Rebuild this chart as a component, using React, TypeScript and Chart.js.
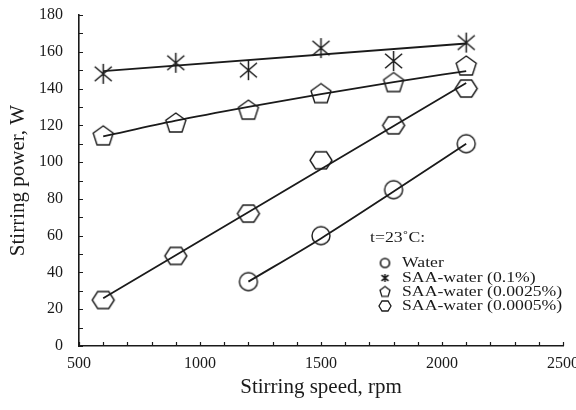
import React, { useEffect, useRef } from "react";
import { Chart, registerables } from "chart.js";

Chart.register(...registerables);

// Measured stirring power, W
const speeds = [600, 900, 1200, 1500, 1800, 2100];
const waterSpeeds = [1200, 1500, 1800, 2100];
const waterPower = [35, 60, 85, 110];
const saa01Power = [148, 154, 150, 162, 155, 165];
const saa0025Power = [114, 121, 128, 137, 143, 152];
const saa0005Power = [25, 49, 72, 101, 120, 140];

// Trend lines
const waterFit = [35, 58.5, 84, 110];
const saa01FitSpeeds = [600, 2100];
const saa01Fit = [149.5, 164.5];
const saa0025Fit = [114, 122.5, 130, 137, 143.5, 149.5];
const saa0005FitSpeeds = [600, 2100];
const saa0005Fit = [26, 143];

// Axes
const xTicks = [500, 1000, 1500, 2000, 2500];
const yTicks = [0, 20, 40, 60, 80, 100, 120, 140, 160, 180];
const xMinorStep = 100;
const yMinorStep = 10;

const legendTitle = "t=23˚C:";
const legendLabels = [
  "Water",
  "SAA-water (0.1%)",
  "SAA-water (0.0025%)",
  "SAA-water (0.0005%)",
];

const INK = "#1a1a1a";
const FONT = "'Liberation Serif', 'Times New Roman', serif";

type MarkerKind = "circle" | "asterisk" | "pentagon" | "hexagon";

function makeMarker(kind: MarkerKind, w: number, h: number, lw: number): HTMLCanvasElement {
  const pad = 2;
  const c = document.createElement("canvas");
  c.width = Math.ceil(w + pad * 2);
  c.height = Math.ceil(h + pad * 2);
  const ctx = c.getContext("2d")!;
  ctx.strokeStyle = INK;
  ctx.lineWidth = lw;
  ctx.lineJoin = "miter";
  const cx = c.width / 2;
  const cy = c.height / 2;
  const rx = w / 2;
  const ry = h / 2;
  ctx.beginPath();
  if (kind === "circle") {
    ctx.ellipse(cx, cy, rx, ry, 0, 0, Math.PI * 2);
  } else if (kind === "asterisk") {
    ctx.moveTo(cx, cy - ry);
    ctx.lineTo(cx, cy + ry);
    ctx.moveTo(cx - rx, cy - ry * 0.72);
    ctx.lineTo(cx + rx, cy + ry * 0.72);
    ctx.moveTo(cx + rx, cy - ry * 0.72);
    ctx.lineTo(cx - rx, cy + ry * 0.72);
  } else if (kind === "pentagon") {
    for (let k = 0; k < 5; k++) {
      const a = -Math.PI / 2 + (k * 2 * Math.PI) / 5;
      const px = cx + (rx * Math.cos(a)) / Math.sin((2 * Math.PI) / 5);
      const py = cy + ry * Math.sin(a);
      if (k === 0) ctx.moveTo(px, py);
      else ctx.lineTo(px, py);
    }
    ctx.closePath();
  } else {
    for (let k = 0; k < 6; k++) {
      const a = (k * Math.PI) / 3;
      const px = cx + rx * Math.cos(a);
      const py = cy + (ry / Math.sin(Math.PI / 3)) * Math.sin(a);
      if (k === 0) ctx.moveTo(px, py);
      else ctx.lineTo(px, py);
    }
    ctx.closePath();
  }
  ctx.stroke();
  return c;
}

const xy = (xs: number[], ys: number[]) => xs.map((x, i) => ({ x, y: ys[i] }));

// Inward minor tick marks on both axes
const axisTicks = {
  id: "axisTicks",
  afterDraw(chart: any) {
    const { ctx, chartArea, scales } = chart;
    const xs = scales.x;
    const ys = scales.y;
    ctx.save();
    ctx.strokeStyle = INK;
    ctx.lineWidth = 1.2;
    ctx.beginPath();
    for (let v = xs.min; v <= xs.max + 1e-6; v += xMinorStep) {
      const px = Math.round(xs.getPixelForValue(v)) + 0.5;
      ctx.moveTo(px, chartArea.bottom);
      ctx.lineTo(px, chartArea.bottom - 4);
    }
    for (let v = ys.min; v <= ys.max + 1e-6; v += yMinorStep) {
      const py = Math.round(ys.getPixelForValue(v)) + 0.5;
      ctx.moveTo(chartArea.left, py);
      ctx.lineTo(chartArea.left + 4, py);
    }
    ctx.stroke();
    ctx.restore();
  },
};

function makeLegendPlugin(icons: HTMLCanvasElement[]) {
  return {
    id: "legendBox",
    afterDraw(chart: any) {
      const { ctx } = chart;
      ctx.save();
      ctx.fillStyle = INK;
      ctx.font = `15px ${FONT}`;
      ctx.textBaseline = "middle";
      ctx.textAlign = "left";
      const stretched = (t: string, x: number, y: number) => {
        ctx.save();
        ctx.translate(x, y);
        ctx.scale(1.18, 1);
        ctx.fillText(t, 0, 0);
        ctx.restore();
      };
      stretched(legendTitle, 370, 238);
      const rowY = [263, 278, 292, 306];
      legendLabels.forEach((label, i) => {
        const icon = icons[i];
        ctx.drawImage(icon, 385 - icon.width / 2, rowY[i] - icon.height / 2);
        stretched(label, 402, rowY[i]);
      });
      ctx.restore();
    },
  };
}

export default function App() {
  const ref = useRef<HTMLCanvasElement>(null);

  useEffect(() => {
    const canvas = ref.current;
    if (!canvas) return;

    const circle = makeMarker("circle", 18, 18, 1.4);
    const asterisk = makeMarker("asterisk", 17, 20, 1.5);
    const pentagon = makeMarker("pentagon", 20, 21, 1.4);
    const hexagon = makeMarker("hexagon", 22, 17, 1.4);

    const legendIcons = [
      makeMarker("circle", 9, 9, 1.6),
      makeMarker("asterisk", 7, 8, 1.6),
      makeMarker("pentagon", 10, 11, 1.3),
      makeMarker("hexagon", 12, 10, 1.3),
    ];

    const trend = (data: { x: number; y: number }[], curved: boolean) => ({
      data,
      showLine: true,
      borderColor: INK,
      borderWidth: 1.8,
      pointRadius: 0,
      pointHoverRadius: 0,
      fill: false,
      cubicInterpolationMode: curved ? ("monotone" as const) : ("default" as const),
      tension: curved ? 0.4 : 0,
    });

    const marks = (data: { x: number; y: number }[], style: HTMLCanvasElement) => ({
      data,
      showLine: false,
      pointStyle: style,
      pointRadius: 9,
      pointHoverRadius: 9,
      borderColor: INK,
      backgroundColor: "transparent",
    });

    const chart = new Chart(canvas, {
      type: "scatter",
      data: {
        datasets: [
          trend(xy(waterSpeeds, waterFit), true),
          trend(xy(saa01FitSpeeds, saa01Fit), false),
          trend(xy(speeds, saa0025Fit), true),
          trend(xy(saa0005FitSpeeds, saa0005Fit), false),
          marks(xy(waterSpeeds, waterPower), circle),
          marks(xy(speeds, saa01Power), asterisk),
          marks(xy(speeds, saa0025Power), pentagon),
          marks(xy(speeds, saa0005Power), hexagon),
        ] as any,
      },
      options: {
        animation: false,
        responsive: false,
        maintainAspectRatio: false,
        layout: { padding: { top: 15, right: 13, left: 0, bottom: 0 } },
        plugins: {
          legend: { display: false },
          tooltip: { enabled: false },
        },
        scales: {
          x: {
            type: "linear",
            min: 500,
            max: 2500,
            afterBuildTicks: (s: any) => {
              s.ticks = xTicks.map((v) => ({ value: v }));
            },
            afterFit: (s: any) => {
              s.height = 64;
              s.paddingLeft = 0;
              s.paddingRight = 0;
            },
            grid: { display: false, drawTicks: false },
            border: { display: true, color: INK, width: 1.6 },
            ticks: {
              color: INK,
              font: { family: FONT, size: 16 },
              padding: 8,
              maxRotation: 0,
              autoSkip: false,
              callback: (v: any) => String(v),
            },
            title: {
              display: true,
              text: "Stirring speed, rpm",
              color: INK,
              font: { family: FONT, size: 21 },
              padding: { top: 0, bottom: 10 },
            },
          },
          y: {
            type: "linear",
            min: 0,
            max: 180,
            afterBuildTicks: (s: any) => {
              s.ticks = yTicks.map((v) => ({ value: v }));
            },
            afterFit: (s: any) => {
              s.width = 79;
              s.paddingTop = 0;
              s.paddingBottom = 0;
            },
            grid: { display: false, drawTicks: false },
            border: { display: true, color: INK, width: 1.6 },
            ticks: {
              color: INK,
              font: { family: FONT, size: 16 },
              padding: 16,
              autoSkip: false,
              callback: (v: any) => String(v),
            },
            title: {
              display: true,
              text: "Stirring power, W",
              color: INK,
              font: { family: FONT, size: 21 },
              padding: { top: 6, bottom: 0 },
            },
          },
        },
      },
      plugins: [axisTicks, makeLegendPlugin(legendIcons)],
    });

    return () => chart.destroy();
  }, []);

  return (
    <div style={{ position: "absolute", left: 0, top: 0, width: 576, height: 410, background: "#fff" }}>
      <canvas ref={ref} width={576} height={410} style={{ width: 576, height: 410, display: "block" }} />
    </div>
  );
}
